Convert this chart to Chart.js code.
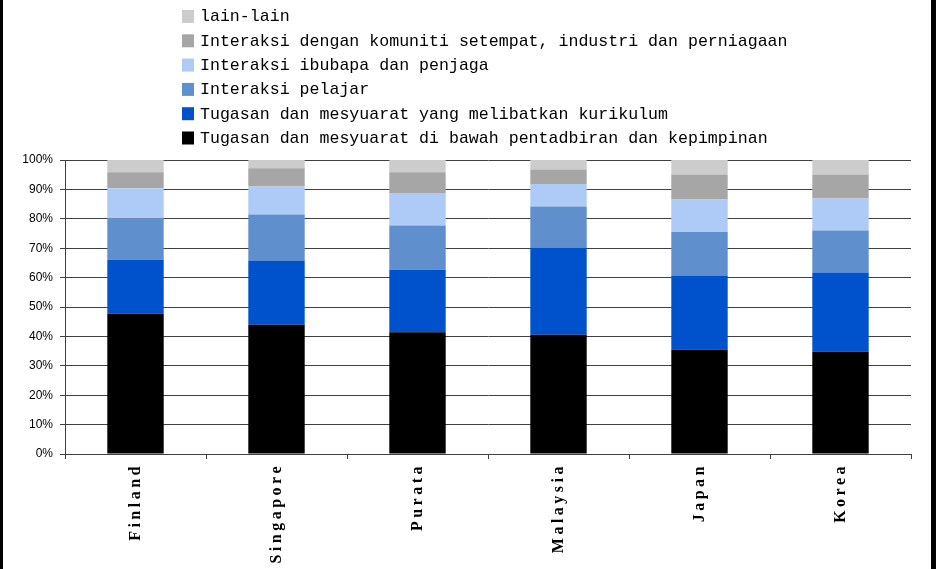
<!DOCTYPE html>
<html>
<head>
<meta charset="utf-8">
<script src="https://cdn.jsdelivr.net/npm/chart.js@4"></script>
<style>
  html, body { margin: 0; padding: 0; background: #fff; }
  #wrap { width: 928px; height: 569px; border-left: 3px solid #000; border-right: 5px solid #000; background: #fff; }
  canvas { display: block; }
</style>
</head>
<body>
<div id="wrap"><canvas id="c" width="928" height="569"></canvas></div>
<script>
const categories = ['Finland', 'Singapore', 'Purata', 'Malaysia', 'Japan', 'Korea'];
const yTicks = ['0%', '10%', '20%', '30%', '40%', '50%', '60%', '70%', '80%', '90%', '100%'];

const seriesNames = [
  'Tugasan dan mesyuarat di bawah pentadbiran dan kepimpinan',
  'Tugasan dan mesyuarat yang melibatkan kurikulum',
  'Interaksi pelajar',
  'Interaksi ibubapa dan penjaga',
  'Interaksi dengan komuniti setempat, industri dan perniagaan',
  'lain-lain'
];

const pentadbiran = [47.7, 44.0, 41.4, 40.6, 35.5, 34.8];
const kurikulum   = [18.4, 21.8, 21.3, 29.6, 25.2, 26.9];
const pelajar     = [14.0, 15.7, 15.0, 14.0, 14.8, 14.3];
const ibubapa     = [10.3,  9.5, 11.1,  7.6, 11.1, 10.9];
const komuniti    = [ 5.4,  6.2,  7.0,  5.0,  8.5,  8.2];
const lainLain    = [ 4.2,  2.8,  4.2,  3.2,  4.9,  4.9];

const colors = ['#000000', '#0052cc', '#5f8fcd', '#adcbf6', '#a6a6a6', '#cccccc'];
const seriesValues = [pentadbiran, kurikulum, pelajar, ibubapa, komuniti, lainLain];

const datasets = seriesValues.map((vals, i) => ({
  label: seriesNames[i],
  data: vals,
  backgroundColor: colors[i],
  borderWidth: 0,
  categoryPercentage: 1.0,
  barPercentage: 0.4
}));

const customLegend = {
  id: 'customLegend',
  afterDraw(chart) {
    const ctx = chart.ctx;
    ctx.save();
    ctx.font = '16.6px "Liberation Mono", "DejaVu Sans Mono", monospace';
    ctx.textBaseline = 'middle';
    ctx.textAlign = 'left';
    const items = chart.data.datasets.slice().reverse();
    items.forEach((d, i) => {
      const y = 16 + i * 24.3;
      ctx.fillStyle = d.backgroundColor;
      ctx.fillRect(179, y - 6, 12, 13);
      ctx.fillStyle = '#000';
      ctx.fillText(d.label, 197, y + 1);
    });
    ctx.restore();
  }
};

const xLabelSpacing = {
  id: 'xLabelSpacing',
  beforeDraw(chart) {
    const s = chart.scales.x;
    if (s && !s._spacingWrapped) {
      const orig = s.drawLabels;
      s.drawLabels = function (area) {
        const ctx = this.ctx;
        ctx.save();
        ctx.letterSpacing = '3.5px';
        orig.call(this, area);
        ctx.restore();
      };
      s._spacingWrapped = true;
    }
  }
};

new Chart(document.getElementById('c'), {
  type: 'bar',
  data: { labels: categories, datasets },
  options: {
    responsive: false,
    animation: false,
    devicePixelRatio: 1,
    layout: { padding: { top: 160, right: 20, bottom: 0, left: 0 } },
    plugins: {
      legend: { display: false },
      tooltip: { enabled: false }
    },
    scales: {
      x: {
        stacked: true,
        offset: true,
        grid: { display: true, drawOnChartArea: false, drawTicks: true, tickLength: 5, color: '#404040', offset: true },
        border: { display: true, color: '#404040' },
        ticks: {
          minRotation: 90, maxRotation: 90, autoSkip: false, padding: 4,
          color: '#000',
          font: { family: '"Liberation Serif", "Times New Roman", serif', size: 16, weight: 'bold' }
        },
        afterFit(scale) { scale.height = 115; }
      },
      y: {
        stacked: true,
        min: 0, max: 100,
        grid: { color: '#404040', tickLength: 5, drawTicks: true },
        border: { display: true, color: '#404040' },
        ticks: {
          stepSize: 10, padding: 7, color: '#000',
          font: { family: '"Liberation Sans", Arial, sans-serif', size: 12 },
          callback: (v) => yTicks[Math.round(v / 10)]
        },
        afterFit(scale) { scale.width = 62; }
      }
    }
  },
  plugins: [customLegend, xLabelSpacing]
});
</script>
</body>
</html>
